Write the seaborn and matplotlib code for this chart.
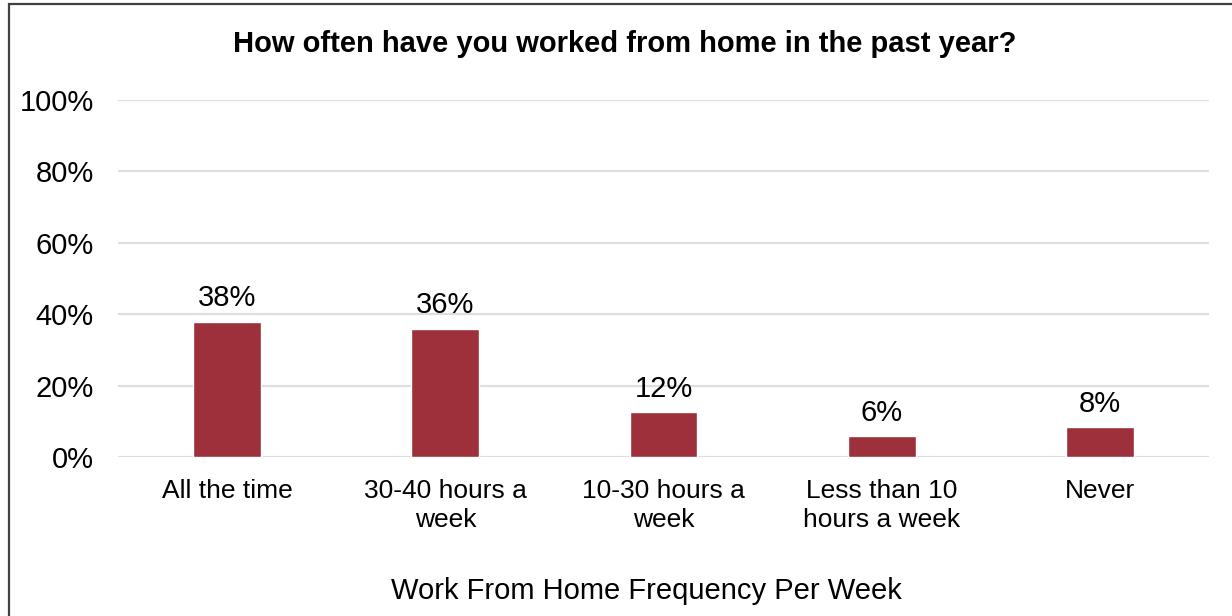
import matplotlib
matplotlib.use("Agg")
import matplotlib.pyplot as plt
import seaborn as sns
import pandas as pd
from matplotlib.patches import Rectangle

categories = ["All the time", "30-40 hours a\nweek", "10-30 hours a\nweek",
              "Less than 10\nhours a week", "Never"]
values = [37.8, 35.8, 12.5, 5.8, 8.3]
value_labels = ["38%", "36%", "12%", "6%", "8%"]
y_ticks = [0, 20, 40, 60, 80, 100]
y_tick_labels = ["0%", "20%", "40%", "60%", "80%", "100%"]
title = "How often have you worked from home in the past year?"
x_title = "Work From Home Frequency Per Week"

sns.set_style("white")
plt.rcParams["font.family"] = ["Liberation Sans", "DejaVu Sans"]
plt.rcParams["text.color"] = "black"
plt.rcParams["xtick.color"] = "black"
plt.rcParams["ytick.color"] = "black"

df = pd.DataFrame({"cat": categories, "val": values})

fig = plt.figure(figsize=(12.32, 6.16), dpi=100)
ax = fig.add_axes([118/1232, 1-457/616, (1209-118)/1232, (457-100)/616])

sns.barplot(data=df, x="cat", y="val", color="#9D303B", width=0.31,
            saturation=1, ax=ax, zorder=3)

ax.set_ylim(0, 100)
ax.set_yticks(y_ticks)
ax.set_yticklabels(y_tick_labels, fontsize=21, color="black")
ax.tick_params(axis="both", length=0)
ax.tick_params(axis="y", pad=17.5)
ax.tick_params(axis="x", pad=15.5)
for t in ax.get_xticklabels():
    t.set_fontsize(19)
    t.set_linespacing(1.3)
    t.set_color("black")
ax.yaxis.grid(True, color="#dedede", linewidth=1.6, zorder=0)
ax.set_axisbelow(True)
for s in ax.spines.values():
    s.set_visible(False)
ax.set_ylabel("")
ax.set_xlabel("")

for i, (v, lab) in enumerate(zip(values, value_labels)):
    ax.annotate(lab, (i, v), xytext=(0, 7), textcoords="offset points",
                ha="center", va="bottom", fontsize=21, color="black")

fig.text(0.5*(232+1018)/1232, 1-44/616, title, ha="center", va="center",
         fontsize=21, fontweight="bold", color="black")
fig.text(0.5*(389+903)/1232, 1-591/616, x_title, ha="center", va="center",
         fontsize=21, color="black")

fig.patches.append(Rectangle((9/1232, -0.1), 1.2, 1.1 - 4.5/616,
                             transform=fig.transFigure, fill=False,
                             edgecolor="#404040", linewidth=1.6, figure=fig))

fig.savefig("out.png", dpi=100)
